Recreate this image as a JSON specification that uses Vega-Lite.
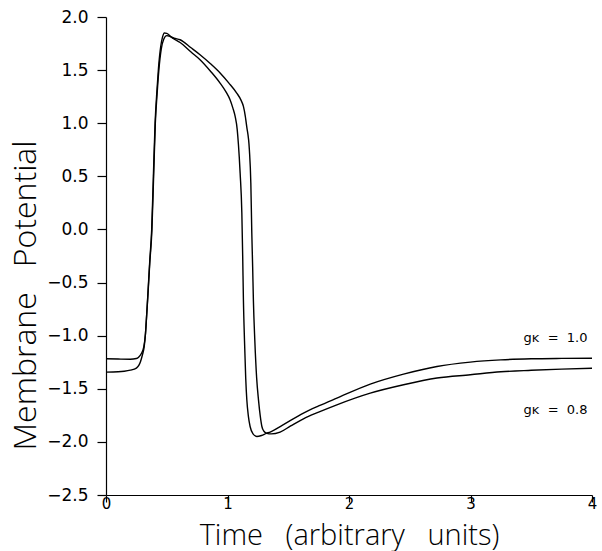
{
  "$schema": "https://vega.github.io/schema/vega-lite/v6.json",
  "autosize": {"type": "none"},
  "width": 486,
  "height": 478,
  "padding": {"left": 106, "top": 17, "right": 10, "bottom": 56},
  "background": "white",
  "config": {
    "view": {"stroke": null},
    "font": "DejaVu Sans",
    "axis": {
      "grid": false,
      "domainColor": "black",
      "tickColor": "black",
      "labelColor": "black",
      "titleColor": "black",
      "labelFont": "DejaVu Sans",
      "titleFont": "Open Sans",
      "labelFontSize": 17,
      "titleFontSize": 30,
      "titleFontWeight": 300,
      "domainWidth": 1.2,
      "tickWidth": 1.2
    }
  },
  "layer": [
    {
      "data": {
        "values": [
          {"t": 0.00, "v": -1.217, "g": "1.0"},
          {"t": 0.10, "v": -1.220, "g": "1.0"},
          {"t": 0.20, "v": -1.222, "g": "1.0"},
          {"t": 0.25, "v": -1.215, "g": "1.0"},
          {"t": 0.27, "v": -1.200, "g": "1.0"},
          {"t": 0.29, "v": -1.170, "g": "1.0"},
          {"t": 0.31, "v": -1.110, "g": "1.0"},
          {"t": 0.325, "v": -0.980, "g": "1.0"},
          {"t": 0.335, "v": -0.800, "g": "1.0"},
          {"t": 0.345, "v": -0.600, "g": "1.0"},
          {"t": 0.36, "v": -0.300, "g": "1.0"},
          {"t": 0.376, "v": 0.000, "g": "1.0"},
          {"t": 0.39, "v": 0.500, "g": "1.0"},
          {"t": 0.404, "v": 1.000, "g": "1.0"},
          {"t": 0.42, "v": 1.320, "g": "1.0"},
          {"t": 0.432, "v": 1.520, "g": "1.0"},
          {"t": 0.45, "v": 1.720, "g": "1.0"},
          {"t": 0.465, "v": 1.810, "g": "1.0"},
          {"t": 0.48, "v": 1.850, "g": "1.0"},
          {"t": 0.50, "v": 1.845, "g": "1.0"},
          {"t": 0.55, "v": 1.800, "g": "1.0"},
          {"t": 0.61, "v": 1.760, "g": "1.0"},
          {"t": 0.70, "v": 1.670, "g": "1.0"},
          {"t": 0.774, "v": 1.598, "g": "1.0"},
          {"t": 0.86, "v": 1.490, "g": "1.0"},
          {"t": 0.939, "v": 1.378, "g": "1.0"},
          {"t": 0.99, "v": 1.290, "g": "1.0"},
          {"t": 1.021, "v": 1.221, "g": "1.0"},
          {"t": 1.045, "v": 1.140, "g": "1.0"},
          {"t": 1.063, "v": 1.064, "g": "1.0"},
          {"t": 1.08, "v": 0.940, "g": "1.0"},
          {"t": 1.09, "v": 0.800, "g": "1.0"},
          {"t": 1.104, "v": 0.530, "g": "1.0"},
          {"t": 1.118, "v": 0.154, "g": "1.0"},
          {"t": 1.125, "v": -0.250, "g": "1.0"},
          {"t": 1.131, "v": -0.663, "g": "1.0"},
          {"t": 1.14, "v": -1.050, "g": "1.0"},
          {"t": 1.15, "v": -1.400, "g": "1.0"},
          {"t": 1.159, "v": -1.604, "g": "1.0"},
          {"t": 1.172, "v": -1.760, "g": "1.0"},
          {"t": 1.186, "v": -1.855, "g": "1.0"},
          {"t": 1.21, "v": -1.925, "g": "1.0"},
          {"t": 1.241, "v": -1.949, "g": "1.0"},
          {"t": 1.28, "v": -1.940, "g": "1.0"},
          {"t": 1.32, "v": -1.920, "g": "1.0"},
          {"t": 1.351, "v": -1.908, "g": "1.0"},
          {"t": 1.45, "v": -1.845, "g": "1.0"},
          {"t": 1.625, "v": -1.729, "g": "1.0"},
          {"t": 1.75, "v": -1.662, "g": "1.0"},
          {"t": 1.90, "v": -1.588, "g": "1.0"},
          {"t": 2.175, "v": -1.456, "g": "1.0"},
          {"t": 2.449, "v": -1.362, "g": "1.0"},
          {"t": 2.724, "v": -1.290, "g": "1.0"},
          {"t": 2.998, "v": -1.249, "g": "1.0"},
          {"t": 3.25, "v": -1.228, "g": "1.0"},
          {"t": 3.5, "v": -1.218, "g": "1.0"},
          {"t": 3.75, "v": -1.214, "g": "1.0"},
          {"t": 4.0, "v": -1.212, "g": "1.0"},
          {"t": 0.00, "v": -1.343, "g": "0.8"},
          {"t": 0.10, "v": -1.340, "g": "0.8"},
          {"t": 0.15, "v": -1.335, "g": "0.8"},
          {"t": 0.20, "v": -1.325, "g": "0.8"},
          {"t": 0.25, "v": -1.305, "g": "0.8"},
          {"t": 0.27, "v": -1.280, "g": "0.8"},
          {"t": 0.285, "v": -1.240, "g": "0.8"},
          {"t": 0.30, "v": -1.180, "g": "0.8"},
          {"t": 0.315, "v": -1.100, "g": "0.8"},
          {"t": 0.325, "v": -0.980, "g": "0.8"},
          {"t": 0.335, "v": -0.800, "g": "0.8"},
          {"t": 0.345, "v": -0.620, "g": "0.8"},
          {"t": 0.36, "v": -0.320, "g": "0.8"},
          {"t": 0.378, "v": 0.000, "g": "0.8"},
          {"t": 0.392, "v": 0.500, "g": "0.8"},
          {"t": 0.406, "v": 1.000, "g": "0.8"},
          {"t": 0.422, "v": 1.300, "g": "0.8"},
          {"t": 0.435, "v": 1.500, "g": "0.8"},
          {"t": 0.455, "v": 1.700, "g": "0.8"},
          {"t": 0.475, "v": 1.790, "g": "0.8"},
          {"t": 0.50, "v": 1.825, "g": "0.8"},
          {"t": 0.52, "v": 1.820, "g": "0.8"},
          {"t": 0.56, "v": 1.800, "g": "0.8"},
          {"t": 0.61, "v": 1.786, "g": "0.8"},
          {"t": 0.70, "v": 1.710, "g": "0.8"},
          {"t": 0.774, "v": 1.645, "g": "0.8"},
          {"t": 0.86, "v": 1.560, "g": "0.8"},
          {"t": 0.939, "v": 1.473, "g": "0.8"},
          {"t": 1.01, "v": 1.380, "g": "0.8"},
          {"t": 1.076, "v": 1.284, "g": "0.8"},
          {"t": 1.11, "v": 1.220, "g": "0.8"},
          {"t": 1.131, "v": 1.158, "g": "0.8"},
          {"t": 1.146, "v": 1.070, "g": "0.8"},
          {"t": 1.158, "v": 0.970, "g": "0.8"},
          {"t": 1.18, "v": 0.750, "g": "0.8"},
          {"t": 1.192, "v": 0.437, "g": "0.8"},
          {"t": 1.20, "v": -0.034, "g": "0.8"},
          {"t": 1.207, "v": -0.350, "g": "0.8"},
          {"t": 1.213, "v": -0.663, "g": "0.8"},
          {"t": 1.225, "v": -1.050, "g": "0.8"},
          {"t": 1.24, "v": -1.400, "g": "0.8"},
          {"t": 1.255, "v": -1.604, "g": "0.8"},
          {"t": 1.27, "v": -1.760, "g": "0.8"},
          {"t": 1.283, "v": -1.855, "g": "0.8"},
          {"t": 1.30, "v": -1.900, "g": "0.8"},
          {"t": 1.324, "v": -1.920, "g": "0.8"},
          {"t": 1.36, "v": -1.925, "g": "0.8"},
          {"t": 1.433, "v": -1.908, "g": "0.8"},
          {"t": 1.52, "v": -1.850, "g": "0.8"},
          {"t": 1.625, "v": -1.783, "g": "0.8"},
          {"t": 1.75, "v": -1.720, "g": "0.8"},
          {"t": 1.90, "v": -1.651, "g": "0.8"},
          {"t": 2.175, "v": -1.541, "g": "0.8"},
          {"t": 2.449, "v": -1.462, "g": "0.8"},
          {"t": 2.724, "v": -1.399, "g": "0.8"},
          {"t": 2.998, "v": -1.368, "g": "0.8"},
          {"t": 3.25, "v": -1.340, "g": "0.8"},
          {"t": 3.5, "v": -1.326, "g": "0.8"},
          {"t": 3.75, "v": -1.315, "g": "0.8"},
          {"t": 4.0, "v": -1.307, "g": "0.8"}
        ]
      },
      "mark": {"type": "line", "color": "black", "strokeWidth": 1.4, "interpolate": "monotone"},
      "encoding": {
        "x": {
          "field": "t", "type": "quantitative",
          "scale": {"domain": [0, 4], "nice": false, "zero": false},
          "axis": {
            "title": "Time\u00a0\u00a0\u00a0(arbitrary\u00a0\u00a0\u00a0units)",
            "titleFontSize": 29,
            "values": [0, 1, 2, 3, 4],
            "format": "d",
            "tickSize": 7,
            "labelPadding": -6,
            "labelFontSize": 15,
            "titleY": 49,
            "titleBaseline": "alphabetic",
            "labelFlush": false
          }
        },
        "y": {
          "field": "v", "type": "quantitative",
          "scale": {"domain": [-2.5, 2.0], "nice": false, "zero": false},
          "axis": {
            "title": "Membrane\u00a0\u00a0\u00a0Potential",
            "titleFontSize": 32,
            "values": [-2.5, -2.0, -1.5, -1.0, -0.5, 0.0, 0.5, 1.0, 1.5, 2.0],
            "format": ".1f",
            "tickSize": 9,
            "labelPadding": 9,
            "titleX": -81,
            "titleY": 278,
            "titleAlign": "center",
            "titleBaseline": "middle",
            "labelFlush": false
          }
        },
        "detail": {"field": "g"}
      }
    },
    {
      "data": {"values": [{"label": "gᴋ\u00a0\u00a0=\u00a0\u00a01.0"}]},
      "mark": {"type": "text", "fontSize": 13, "color": "black", "align": "center", "baseline": "middle"},
      "encoding": {
        "x": {"datum": 3.7, "type": "quantitative"},
        "y": {"datum": -1.02, "type": "quantitative"},
        "text": {"field": "label"}
      }
    },
    {
      "data": {"values": [{"label": "gᴋ\u00a0\u00a0=\u00a0\u00a00.8"}]},
      "mark": {"type": "text", "fontSize": 13, "color": "black", "align": "center", "baseline": "middle"},
      "encoding": {
        "x": {"datum": 3.7, "type": "quantitative"},
        "y": {"datum": -1.70, "type": "quantitative"},
        "text": {"field": "label"}
      }
    }
  ]
}
